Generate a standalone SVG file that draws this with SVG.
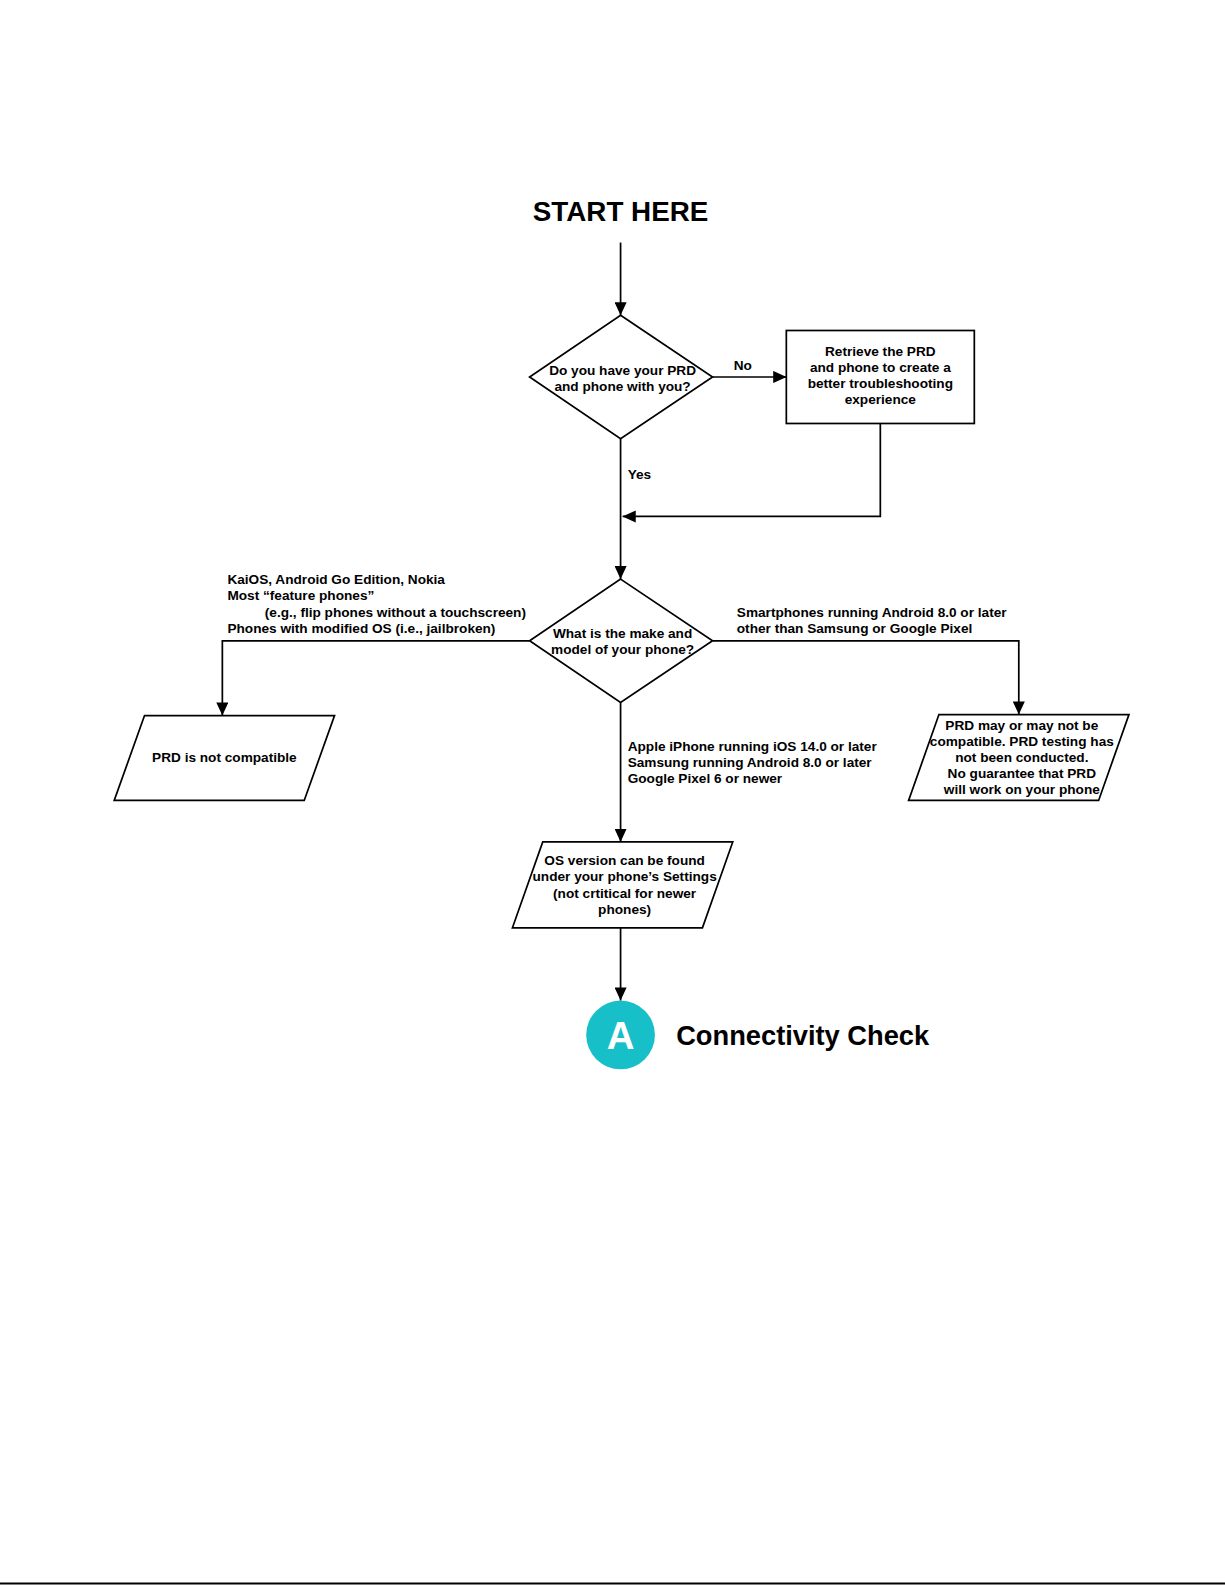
<svg xmlns="http://www.w3.org/2000/svg" width="1225" height="1585" viewBox="0 0 1225 1585">
<defs>
<marker id="arr" viewBox="0 0 13 12" refX="13" refY="6" markerWidth="13" markerHeight="12" markerUnits="userSpaceOnUse" orient="auto">
<path d="M0,0 L13,6 L0,12 Z" fill="#000"/>
</marker>
</defs>
<style>
.t{font-family:"Liberation Sans",Arial,sans-serif;font-weight:bold;font-size:13.5px;fill:#000}
.c{text-anchor:middle}
.shape{fill:#fff;stroke:#000;stroke-width:1.7}
.ln{fill:none;stroke:#000;stroke-width:1.7}
</style>
<rect width="1225" height="1585" fill="#fff"/>
<g transform="scale(1.0107)">
<text class="t c" x="614" y="219" style="font-size:27.5px">START HERE</text>
<g id="connectors">
<line class="ln" x1="614" y1="240" x2="614" y2="312" marker-end="url(#arr)"/>
<line class="ln" x1="705" y1="373" x2="778" y2="373" marker-end="url(#arr)"/>
<polyline class="ln" points="871,419 871,511 616,511" marker-end="url(#arr)"/>
<line class="ln" x1="614" y1="434" x2="614" y2="573" marker-end="url(#arr)"/>
<polyline class="ln" points="524,634 220,634 220,708" marker-end="url(#arr)"/>
<polyline class="ln" points="705,634 1008,634 1008,707" marker-end="url(#arr)"/>
<line class="ln" x1="614" y1="695" x2="614" y2="833" marker-end="url(#arr)"/>
<line class="ln" x1="614" y1="918" x2="614" y2="990" marker-end="url(#arr)"/>
<text class="t" x="726" y="366">No</text>
<text class="t" x="621" y="474">Yes</text>
<text class="t" x="225" y="578">KaiOS, Android Go Edition, Nokia</text>
<text class="t" x="225" y="594">Most “feature phones”</text>
<text class="t" x="262" y="610">(e.g., flip phones without a touchscreen)</text>
<text class="t" x="225" y="626">Phones with modified OS (i.e., jailbroken)</text>
<text class="t" x="729" y="610">Smartphones running Android 8.0 or later</text>
<text class="t" x="729" y="626">other than Samsung or Google Pixel</text>
<text class="t" x="621" y="743">Apple iPhone running iOS 14.0 or later</text>
<text class="t" x="621" y="759">Samsung running Android 8.0 or later</text>
<text class="t" x="621" y="775">Google Pixel 6 or newer</text>
</g>
<g id="q1">
<polygon class="shape" points="614,312 705,373 614,434 524,373"/>
<text class="t c" x="616" y="371">Do you have your PRD</text>
<text class="t c" x="616" y="387">and phone with you?</text>
</g>
<g id="retrieve">
<rect class="shape" x="778" y="327" width="186" height="92"/>
<text class="t c" x="871" y="352">Retrieve the PRD</text>
<text class="t c" x="871" y="368">and phone to create a</text>
<text class="t c" x="871" y="384">better troubleshooting</text>
<text class="t c" x="871" y="400">experience</text>
</g>
<g id="q2">
<polygon class="shape" points="614,573 705,634 614,695 524,634"/>
<text class="t c" x="616" y="631">What is the make and</text>
<text class="t c" x="616" y="647">model of your phone?</text>
</g>
<g id="notcompat">
<polygon class="shape" points="143,708 331,708 301,792 113,792"/>
<text class="t c" x="222" y="754">PRD is not compatible</text>
</g>
<g id="maybe">
<polygon class="shape" points="929,707 1117,707 1087,792 899,792"/>
<text class="t c" x="1011" y="722">PRD may or may not be</text>
<text class="t c" x="1011" y="738">compatible. PRD testing has</text>
<text class="t c" x="1011" y="754">not been conducted.</text>
<text class="t c" x="1011" y="770">No guarantee that PRD</text>
<text class="t c" x="1011" y="786">will work on your phone</text>
</g>
<g id="osver">
<polygon class="shape" points="537,833 725,833 695,918 507,918"/>
<text class="t c" x="618" y="856">OS version can be found</text>
<text class="t c" x="618" y="872">under your phone’s Settings</text>
<text class="t c" x="618" y="888">(not crtitical for newer</text>
<text class="t c" x="618" y="904">phones)</text>
</g>
<g id="connA">
<circle cx="614" cy="1024" r="34" fill="#17bfc8"/>
<text class="t c" x="614" y="1038" style="font-size:38px;fill:#fff">A</text>
<text class="t" x="669" y="1034" style="font-size:27px">Connectivity Check</text>
</g>
</g>
<line x1="0" y1="1583.5" x2="1225" y2="1583.5" stroke="#000" stroke-width="2"/>
</svg>
